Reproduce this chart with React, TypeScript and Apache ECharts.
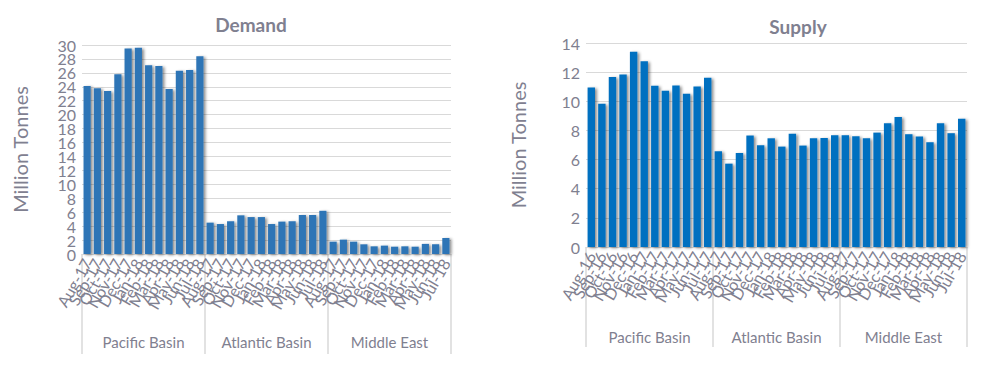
import React, { useEffect, useRef } from "react";
import * as echarts from "echarts";

const demandMonths = ["Aug-17","Sep-17","Oct-17","Nov-17","Dec-17","Jan-18","Feb-18","Mar-18","Apr-18","May-18","Jun-18","Jul-18"];
const supplyPacificMonths = ["Aug-16","Sep-16","Oct-16","Nov-16","Dec-16","Jan-17","Feb-17","Mar-17","Apr-17","May-17","Jun-17","Jul-17"];
const regions = ["Pacific Basin", "Atlantic Basin", "Middle East"];

const demandCategories = [...demandMonths, ...demandMonths, ...demandMonths];
const supplyCategories = [...supplyPacificMonths, ...demandMonths, ...demandMonths];

const demandPacific = [24.1, 23.8, 23.4, 25.8, 29.5, 29.6, 27.1, 27.0, 23.7, 26.3, 26.4, 28.4];
const demandAtlantic = [4.5, 4.3, 4.7, 5.55, 5.3, 5.3, 4.3, 4.65, 4.7, 5.6, 5.6, 6.2];
const demandMiddleEast = [1.77, 2.06, 1.77, 1.39, 1.1, 1.2, 1.05, 1.1, 1.05, 1.45, 1.4, 2.3];

const supplyPacific = [10.95, 9.83, 11.67, 11.83, 13.4, 12.74, 11.07, 10.72, 11.09, 10.52, 11.02, 11.62];
const supplyAtlantic = [6.57, 5.72, 6.45, 7.65, 6.98, 7.46, 6.89, 7.78, 6.96, 7.46, 7.48, 7.67];
const supplyMiddleEast = [7.67, 7.6, 7.46, 7.85, 8.5, 8.93, 7.74, 7.58, 7.19, 8.5, 7.81, 8.8];

const demandValues = [...demandPacific, ...demandAtlantic, ...demandMiddleEast];
const supplyValues = [...supplyPacific, ...supplyAtlantic, ...supplyMiddleEast];

const TEXT = "#7f8090";
const LINE = "#d9d9d9";
const FONT = "Lato, 'Open Sans', sans-serif";

export default function App() {
  const ref = useRef<HTMLDivElement>(null);
  useEffect(() => {
    document.body.style.margin = "0";
    const chart = echarts.init(ref.current!, null, { renderer: "svg" });
    const monthAxis = (grid: number, data: string[]) => ({
      type: "category",
      gridIndex: grid,
      data,
      position: "bottom",
      axisLine: { show: true, lineStyle: { color: LINE } },
      axisTick: { show: false },
      axisLabel: {
        interval: 0,
        rotate: 60,
        color: TEXT,
        fontSize: 16,
        fontFamily: FONT,
        margin: 6,
        hideOverlap: false,
      },
    });
    const regionAxis = (grid: number, len: number, margin: number) => ({
      type: "category",
      gridIndex: grid,
      data: regions,
      position: "bottom",
      axisLine: { show: false },
      axisTick: { show: true, length: len, interval: 0, lineStyle: { color: LINE, width: 1.5 } },
      axisLabel: { interval: 0, color: TEXT, fontSize: 15, fontFamily: FONT, margin },
    });
    const valueAxis = (
      grid: number,
      max: number,
      gap: number,
      opts: { main: boolean; keep?: (v: number) => boolean }
    ) => ({
      type: "value",
      gridIndex: grid,
      position: "left",
      min: 0,
      max,
      interval: 2,
      name: opts.main ? "Million Tonnes" : "",
      nameLocation: "middle",
      nameGap: gap,
      nameTextStyle: { color: TEXT, fontSize: 20, fontFamily: FONT },
      axisLine: { show: false },
      axisTick: { show: false },
      splitLine: { show: opts.main, lineStyle: { color: LINE } },
      axisLabel: {
        color: TEXT,
        fontSize: 16,
        fontFamily: FONT,
        margin: 6,
        hideOverlap: false,
        formatter: (v: number) => (opts.keep && !opts.keep(v) ? "" : String(v)),
      },
    });
    chart.setOption({
      animation: false,
      backgroundColor: "#ffffff",
      title: [
        { text: "Demand", left: 246, top: 10, textAlign: "center", textStyle: { color: TEXT, fontSize: 19, fontWeight: "bold", fontFamily: FONT } },
        { text: "Supply", left: 793, top: 12, textAlign: "center", textStyle: { color: TEXT, fontSize: 19, fontWeight: "bold", fontFamily: FONT } },
      ],
      grid: [
        { left: 82, right: 551, top: 45, bottom: 135 },
        { left: 586, right: 35, top: 43, bottom: 142 },
      ],
      xAxis: [
        monthAxis(0, demandCategories),
        regionAxis(0, 100, 80),
        monthAxis(1, supplyCategories),
        regionAxis(1, 100, 82),
      ],
      yAxis: [
        valueAxis(0, 30, 52, { main: true, keep: (v) => v % 4 === 0 }),
        valueAxis(1, 14, 58, { main: true }),
        valueAxis(0, 30, 52, { main: false, keep: (v) => v % 4 === 2 }),
      ],
      series: [
        {
          type: "bar",
          xAxisIndex: 0,
          yAxisIndex: 0,
          data: demandValues,
          barCategoryGap: "30%",
          itemStyle: { color: "#2e75b6", shadowColor: "rgba(0,0,0,0.45)", shadowBlur: 3, shadowOffsetX: 2, shadowOffsetY: 1 },
        },
        {
          type: "bar",
          xAxisIndex: 2,
          yAxisIndex: 1,
          data: supplyValues,
          barCategoryGap: "30%",
          itemStyle: { color: "#0070c0", shadowColor: "rgba(0,0,0,0.45)", shadowBlur: 3, shadowOffsetX: 2, shadowOffsetY: 1 },
        },
      ],
    });
    return () => chart.dispose();
  }, []);
  return <div ref={ref} style={{ width: 1002, height: 389 }} />;
}
